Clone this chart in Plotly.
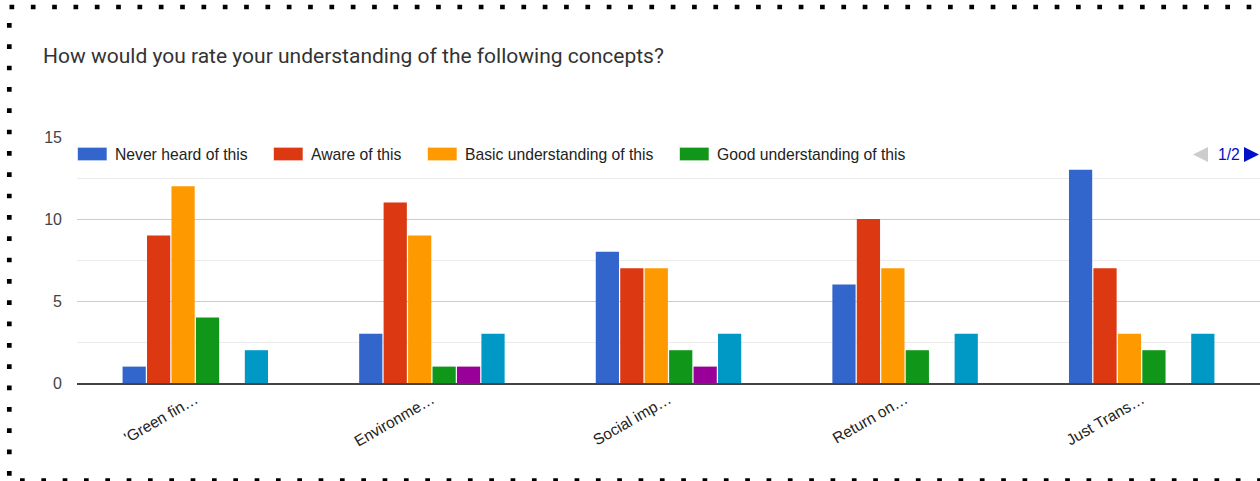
import plotly.graph_objects as go

# Survey results: counts of respondents per concept and understanding level
concepts = ["'Green fin…", "Environme…", "Social imp…", "Return on…", "Just Trans…"]
series_names = [
    "Never heard of this",
    "Aware of this",
    "Basic understanding of this",
    "Good understanding of this",
    "Expert understanding of this",
    "Not sure",
]
never_heard = [1, 3, 8, 6, 13]
aware = [9, 11, 7, 10, 7]
basic = [12, 9, 7, 7, 3]
good = [4, 1, 2, 2, 2]
expert = [0, 1, 1, 0, 0]
not_sure = [2, 3, 3, 3, 3]
y_ticks = [0, 5, 10, 15]

series_values = [never_heard, aware, basic, good, expert, not_sure]
colors = ["#3366cc", "#dc3912", "#ff9900", "#109618", "#990099", "#0099c6"]

W, H = 1260, 481
ML, MR, MT, MB = 77, 0, 137, 98
PW, PH = W - ML - MR, H - MT - MB
FONT = "Arial, 'Liberation Sans', sans-serif"


def px_x(x):
    return (x - ML) / PW


def px_y(y):
    return (H - MB - y) / PH


fig = go.Figure()
for name, vals, col in zip(series_names, series_values, colors):
    fig.add_trace(go.Bar(
        x=concepts, y=vals, name=name,
        marker=dict(color=col, line=dict(width=0)),
    ))

shapes = []
annotations = []

# Legend (first page of entries)
legend_swatch_x = [77.5, 273.5, 427.5, 679.5]
for i in range(4):
    x0 = legend_swatch_x[i]
    shapes.append(dict(
        type="rect", xref="paper", yref="paper",
        x0=px_x(x0), x1=px_x(x0 + 29.5), y0=px_y(160.7), y1=px_y(147.3),
        fillcolor=colors[i], line=dict(color="rgba(255,255,255,0.6)", width=1),
    ))
    annotations.append(dict(
        text=series_names[i], xref="paper", yref="paper",
        x=px_x(x0 + 35.5), y=px_y(154.5), xanchor="left", yanchor="middle",
        showarrow=False, font=dict(family=FONT, size=15.7, color="#222222"),
    ))

# Legend pager
shapes.append(dict(
    type="path", xref="paper", yref="paper",
    path=f"M {px_x(1208)} {px_y(147)} L {px_x(1193)} {px_y(154.5)} L {px_x(1208)} {px_y(162)} Z",
    fillcolor="#cccccc", line=dict(width=0),
))
shapes.append(dict(
    type="path", xref="paper", yref="paper",
    path=f"M {px_x(1244)} {px_y(147)} L {px_x(1259)} {px_y(154.5)} L {px_x(1244)} {px_y(162)} Z",
    fillcolor="#0011cc", line=dict(width=0),
))
annotations.append(dict(
    text="1/2", xref="paper", yref="paper",
    x=px_x(1215.5), y=px_y(154.5), xanchor="left", yanchor="middle",
    showarrow=False, font=dict(family=FONT, size=15.7, color="#0011cc"),
))

# Dotted frame around the chart
dot = 4.7
period = 21.33
dash = f"{dot}px,{period - dot}px"
frame = dict(color="#000000", width=dot, dash=dash)
shapes.append(dict(type="line", xref="paper", yref="paper",
                   x0=px_x(9.5), x1=px_x(1265), y0=px_y(7), y1=px_y(7), line=frame))
shapes.append(dict(type="line", xref="paper", yref="paper",
                   x0=px_x(9.3), x1=px_x(9.3), y0=px_y(23), y1=px_y(485), line=frame))
shapes.append(dict(type="line", xref="paper", yref="paper",
                   x0=px_x(20), x1=px_x(1265), y0=px_y(480.5), y1=px_y(480.5), line=frame))

fig.update_layout(
    width=W, height=H,
    margin=dict(l=ML, r=MR, t=MT, b=MB, pad=0),
    paper_bgcolor="white", plot_bgcolor="white",
    barmode="group", bargap=0.38, bargroupgap=0.05,
    showlegend=False,
    font=dict(family=FONT),
    title=dict(
        text="How would you rate your understanding of the following concepts?",
        xref="container", yref="container",
        x=43 / W, y=1 - 56 / H, xanchor="left", yanchor="middle",
        font=dict(family="Roboto, Arial, sans-serif", size=21, color="#333333"),
    ),
    shapes=shapes,
    annotations=annotations,
)
fig.update_xaxes(
    range=[-0.5, 4.5], tickangle=-30, showgrid=False, ticks="",
    tickfont=dict(family=FONT, size=15.5, color="#222222"),
    showline=True, linecolor="#444444", linewidth=1.5, fixedrange=True,
)
fig.update_yaxes(
    range=[0, 15], tickvals=y_ticks, ticks="",
    showgrid=True, gridcolor="#cccccc", gridwidth=1,
    minor=dict(tickvals=[2.5, 7.5, 12.5], showgrid=True, gridcolor="#ebebeb", gridwidth=1),
    zeroline=False, ticklabelstandoff=14,
    tickfont=dict(family=FONT, size=16, color="#444444"), fixedrange=True,
)

fig.write_html("out.html", config={"displayModeBar": False})
